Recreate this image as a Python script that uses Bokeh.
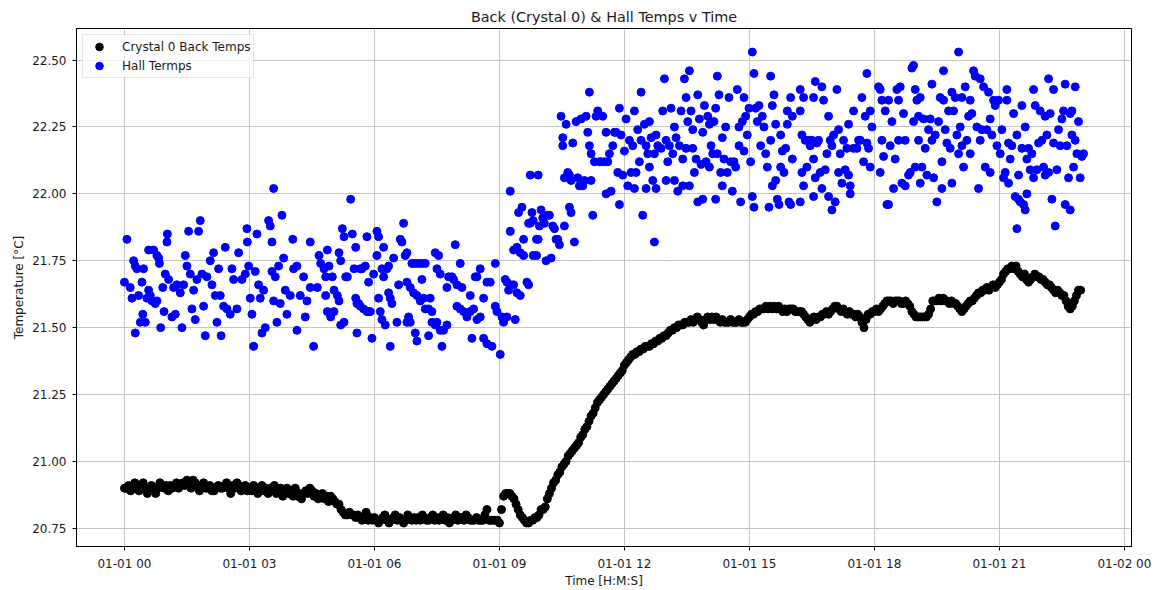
from bokeh.plotting import figure
from bokeh.models import Range1d, FixedTicker, PrintfTickFormatter, Legend, LegendItem, ColumnDataSource
from bokeh.embed import file_html
from bokeh.resources import INLINE

# ---------------- text ----------------
TITLE = "Back (Crystal 0) & Hall Temps v Time"
X_LABEL = "Time [H:M:S]"
Y_LABEL = "Temperature [°C]"
CRYSTAL_LABEL = "Crystal 0 Back Temps"
HALL_LABEL = "Hall Termps"

# ---------------- ticks ----------------
X_TICK_HOURS = [0, 3, 6, 9, 12, 15, 18, 21, 24]
X_TICK_LABELS = ["01-01 00", "01-01 03", "01-01 06", "01-01 09", "01-01 12",
                 "01-01 15", "01-01 18", "01-01 21", "01-02 00"]
Y_TICKS = [20.75, 21.00, 21.25, 21.50, 21.75, 22.00, 22.25, 22.50]

# ---------------- Crystal 0 back temps (sampled every 0.05 h) ----------------
CRYSTAL_STEP_H = 0.05
crystal_temps = [
    20.90, 20.90, 20.91, 20.89, 20.90, 20.92, 20.90, 20.89, 20.91, 20.92, 20.90, 20.88, 20.90, 20.91, 20.90, 20.88, 20.90, 20.92, 20.91, 20.90,
    20.91, 20.89, 20.91, 20.90, 20.91, 20.92, 20.90, 20.91, 20.92, 20.91, 20.93, 20.92, 20.90, 20.93, 20.92, 20.91, 20.89, 20.91, 20.92, 20.90,
    20.90, 20.91, 20.89, 20.89, 20.90, 20.91, 20.90, 20.90, 20.91, 20.92, 20.90, 20.88, 20.91, 20.90, 20.92, 20.91, 20.89, 20.90, 20.91, 20.89,
    20.90, 20.89, 20.91, 20.90, 20.88, 20.90, 20.91, 20.89, 20.90, 20.88, 20.90, 20.89, 20.91, 20.88, 20.89, 20.90, 20.87, 20.89, 20.90, 20.88,
    20.89, 20.87, 20.90, 20.87, 20.88, 20.86, 20.88, 20.89, 20.88, 20.90, 20.89, 20.87, 20.88, 20.86, 20.87, 20.88, 20.86, 20.87, 20.85, 20.87,
    20.86, 20.85, 20.84, 20.84, 20.82, 20.81, 20.80, 20.80, 20.81, 20.80, 20.80, 20.79, 20.80, 20.79, 20.78, 20.79, 20.81, 20.78, 20.79, 20.78,
    20.79, 20.78, 20.77, 20.78, 20.79, 20.80, 20.78, 20.77, 20.78, 20.79, 20.80, 20.78, 20.79, 20.78, 20.77, 20.78, 20.80, 20.79, 20.78, 20.79,
    20.78, 20.79, 20.78, 20.80, 20.79, 20.78, 20.78, 20.79, 20.80, 20.78, 20.79, 20.78, 20.79, 20.80, 20.78, 20.79, 20.77, 20.78, 20.79, 20.80,
    20.78, 20.79, 20.79, 20.78, 20.80, 20.79, 20.78, 20.78, 20.78, 20.79, 20.78, 20.78, 20.78, 20.80, 20.82, 20.78, 20.78, 20.78, 20.78, 20.78,
    20.77, 20.82, 20.87, 20.88, 20.88, 20.88, 20.87, 20.86, 20.84, 20.82, 20.80, 20.79, 20.78, 20.77, 20.77, 20.78, 20.78, 20.79, 20.79, 20.80,
    20.82, 20.82, 20.83, 20.86, 20.88, 20.90, 20.92, 20.93, 20.95, 20.96, 20.98, 20.99, 21.00, 21.02, 21.03, 21.04, 21.05, 21.06, 21.07, 21.09,
    21.10, 21.12, 21.13, 21.15, 21.17, 21.18, 21.20, 21.22, 21.23, 21.24, 21.25, 21.26, 21.27, 21.28, 21.29, 21.30, 21.31, 21.32, 21.33, 21.34,
    21.36, 21.37, 21.38, 21.39, 21.40, 21.40, 21.41, 21.41, 21.42, 21.42, 21.43, 21.43, 21.43, 21.44, 21.44, 21.45, 21.45, 21.46, 21.46, 21.47,
    21.47, 21.48, 21.49, 21.49, 21.50, 21.50, 21.51, 21.51, 21.51, 21.52, 21.52, 21.52, 21.53, 21.52, 21.53, 21.54, 21.53, 21.52, 21.51, 21.53,
    21.54, 21.53, 21.54, 21.53, 21.54, 21.53, 21.52, 21.53, 21.52, 21.52, 21.52, 21.53, 21.52, 21.52, 21.52, 21.53, 21.52, 21.52, 21.52, 21.53,
    21.54, 21.55, 21.55, 21.56, 21.56, 21.57, 21.57, 21.57, 21.58, 21.57, 21.58, 21.57, 21.58, 21.57, 21.58, 21.57, 21.56, 21.57, 21.56, 21.57,
    21.57, 21.57, 21.56, 21.56, 21.56, 21.56, 21.55, 21.54, 21.53, 21.52, 21.53, 21.54, 21.53, 21.54, 21.54, 21.55, 21.55, 21.56, 21.55, 21.56,
    21.57, 21.58, 21.58, 21.57, 21.56, 21.57, 21.56, 21.55, 21.56, 21.55, 21.55, 21.54, 21.55, 21.54, 21.52, 21.50, 21.53, 21.55, 21.55, 21.56,
    21.56, 21.57, 21.56, 21.57, 21.58, 21.59, 21.60, 21.60, 21.60, 21.59, 21.60, 21.60, 21.60, 21.59, 21.59, 21.60, 21.59, 21.58, 21.56, 21.55,
    21.54, 21.54, 21.54, 21.54, 21.54, 21.54, 21.55, 21.57, 21.60, 21.60, 21.60, 21.61, 21.60, 21.61, 21.60, 21.60, 21.59, 21.60, 21.59, 21.59,
    21.58, 21.57, 21.56, 21.57, 21.58, 21.59, 21.60, 21.60, 21.61, 21.62, 21.63, 21.63, 21.64, 21.64, 21.65, 21.64, 21.65, 21.66, 21.65, 21.66,
    21.67, 21.68, 21.70, 21.71, 21.72, 21.72, 21.73, 21.72, 21.73, 21.71, 21.70, 21.69, 21.70, 21.68, 21.67, 21.68, 21.69, 21.70, 21.69, 21.69,
    21.68, 21.68, 21.67, 21.66, 21.66, 21.65, 21.64, 21.63, 21.64, 21.63, 21.62, 21.62, 21.60, 21.58, 21.57, 21.58, 21.60, 21.62, 21.64, 21.64,
]
crystal_hours = [i * CRYSTAL_STEP_H for i in range(len(crystal_temps))]

# ---------------- Hall temps (hours since 01-01 00) ----------------
hall_hours_a = [
    0.00, 0.06, 0.14, 0.22, 0.26, 0.30, 0.26, 0.18, 0.34, 0.38,
    0.42, 0.44, 0.46, 0.50, 0.54, 0.58, 0.58, 0.62, 0.66, 0.70,
    0.74, 0.78, 0.78, 0.82, 0.84, 0.87, 0.92, 0.95, 0.98, 1.02,
    1.03, 1.06, 1.14, 1.18, 1.22, 1.26, 1.34, 1.38, 1.42, 1.46,
    1.50, 1.54, 1.58, 1.62, 1.66, 1.70, 1.74, 1.78, 1.82, 1.86,
    1.90, 1.94, 1.98, 2.06, 2.10, 2.14, 2.18, 2.22, 2.26, 2.30,
    2.32, 2.38, 2.42, 2.46, 2.54, 2.58, 2.62, 2.70, 2.74, 2.82,
    2.90, 2.94, 2.95, 2.98, 3.02, 3.06, 3.10, 3.14, 3.18, 3.22,
    3.26, 3.30, 3.34, 3.38, 3.46, 3.50, 3.54, 3.58, 3.54, 3.58,
    3.62, 3.66, 3.70, 3.74, 3.78, 3.82, 3.86, 3.90, 3.98, 4.04,
    4.06, 4.14, 4.14, 4.22, 4.30, 4.34, 4.38, 4.46, 4.46, 4.54,
]
hall_temps_a = [
    21.67, 21.83, 21.65, 21.75, 21.73, 21.72, 21.48, 21.61, 21.62, 21.52,
    21.67, 21.55, 21.72, 21.52, 21.61, 21.64, 21.79, 21.62, 21.60, 21.79,
    21.59, 21.60, 21.77, 21.76, 21.74, 21.50, 21.65, 21.56, 21.70, 21.82,
    21.85, 21.68, 21.54, 21.65, 21.55, 21.66, 21.63, 21.50, 21.66, 21.77,
    21.73, 21.86, 21.70, 21.57, 21.64, 21.53, 21.68, 21.86, 21.90, 21.70,
    21.58, 21.47, 21.69, 21.75, 21.66, 21.78, 21.62, 21.52, 21.72, 21.62,
    21.47, 21.58, 21.80, 21.57, 21.55, 21.72, 21.68, 21.57, 21.78, 21.68,
    21.70, 21.87, 21.82, 21.73, 21.61, 21.55, 21.43, 21.71, 21.85, 21.66,
    21.61, 21.48, 21.64, 21.50, 21.90, 21.88, 21.82, 22.02, 21.71, 21.60,
    21.69, 21.52, 21.73, 21.59, 21.92, 21.76, 21.64, 21.55, 21.62, 21.83,
    21.72, 21.73, 21.49, 21.62, 21.69, 21.54, 21.60, 21.82, 21.65, 21.43,
]
hall_hours_b = [
    4.63, 4.67, 4.71, 4.79, 4.83, 4.87, 4.83, 4.91, 4.87, 4.95,
    5.03, 4.99, 5.03, 5.11, 5.15, 5.15, 5.19, 5.23, 5.27, 5.19,
    5.27, 5.31, 5.35, 5.43, 5.47, 5.51, 5.55, 5.58, 5.62, 5.55,
    5.58, 5.66, 5.70, 5.78, 5.66, 5.74, 5.82, 5.86, 5.90, 5.82,
    5.86, 5.94, 5.98, 6.06, 6.10, 6.06, 6.10, 6.14, 6.18, 6.26,
    6.18, 6.22, 6.22, 6.30, 6.34, 6.34, 6.38, 6.42, 6.38, 6.46,
    6.54, 6.58, 6.62, 6.66, 6.70, 6.74, 6.78, 6.78, 6.86, 6.82,
    6.86, 6.78, 6.90, 6.98, 7.06, 7.14, 7.22, 6.94, 7.02, 6.98,
    7.02, 7.10, 7.18, 7.14, 7.22, 7.30, 7.38, 7.34, 7.30, 7.38,
    7.46, 7.50, 7.58, 7.46, 7.54, 7.50, 7.58, 7.62, 7.66, 7.74,
    7.74, 7.78, 7.86, 7.90, 7.94, 7.98, 8.06, 7.98, 8.06, 8.10,
    8.14, 8.22, 8.30, 8.38, 8.30, 8.34, 8.42, 8.46, 8.46, 8.54,
    8.54, 8.62, 8.70, 8.62, 8.70, 8.78, 8.82, 8.90, 8.90, 8.94,
    9.02, 9.06, 9.10, 9.18, 9.14, 9.18, 9.26, 9.34, 9.22, 9.38,
    9.42, 9.50, 9.26, 9.26, 9.34, 9.42, 9.50, 9.58, 9.46, 9.54,
    9.58, 9.66, 9.70, 9.70, 9.74, 9.81, 9.74, 9.81, 9.89, 9.78,
    9.89, 9.93, 9.93,
]
hall_temps_b = [
    21.65, 21.77, 21.74, 21.72, 21.62, 21.79, 21.69, 21.73, 21.56, 21.54,
    21.56, 21.69, 21.64, 21.62, 21.60, 21.78, 21.75, 21.87, 21.84, 21.51,
    21.52, 21.69, 21.69, 21.98, 21.85, 21.72, 21.61, 21.59, 21.59, 21.80,
    21.48, 21.72, 21.72, 21.73, 21.58, 21.57, 21.56, 21.56, 21.56, 21.84,
    21.67, 21.46, 21.70, 21.86, 21.84, 21.77, 21.61, 21.56, 21.53, 21.51,
    21.72, 21.69, 21.80, 21.72, 21.73, 21.63, 21.61, 21.59, 21.43, 21.76,
    21.52, 21.66, 21.83, 21.82, 21.89, 21.77, 21.78, 21.67, 21.65, 21.54,
    21.52, 21.52, 21.74, 21.74, 21.74, 21.74, 21.74, 21.63, 21.62, 21.48,
    21.45, 21.60, 21.61, 21.68, 21.57, 21.57, 21.56, 21.61, 21.47, 21.52,
    21.51, 21.52, 21.49, 21.78, 21.77, 21.72, 21.70, 21.43, 21.49, 21.51,
    21.65, 21.69, 21.69, 21.68, 21.81, 21.66, 21.74, 21.58, 21.57, 21.65,
    21.56, 21.54, 21.56, 21.57, 21.62, 21.46, 21.69, 21.69, 21.53, 21.54,
    21.72, 21.46, 21.44, 21.61, 21.67, 21.67, 21.43, 21.74, 21.58, 21.56,
    21.40, 21.54, 21.52, 21.54, 21.68, 21.67, 21.66, 21.66, 21.64, 21.53,
    21.63, 21.62, 22.01, 21.86, 21.79, 21.80, 21.78, 21.77, 21.93, 21.95,
    21.83, 21.67, 21.66, 21.89, 21.89, 21.90, 22.07, 21.77, 21.77, 21.93,
    21.83, 21.83, 22.07,
]
hall_hours_c = [
    9.96, 10.00, 10.04, 10.08, 10.12, 10.16, 10.20, 10.24, 10.28, 10.32,
    10.36, 10.40, 10.44, 10.48, 10.52, 10.56, 10.60, 10.52, 10.64, 10.56,
    10.68, 10.72, 10.76, 10.80, 10.68, 10.72, 10.84, 10.88, 10.92, 10.96,
    11.00, 11.04, 11.08, 11.12, 11.16, 11.16, 11.20, 11.24, 11.20, 11.28,
    11.32, 11.36, 11.40, 11.44, 11.48, 11.52, 11.56, 11.56, 11.60, 11.64,
    11.68, 11.72, 11.76, 11.80, 11.84, 11.88, 11.88, 11.92, 11.96, 12.00,
    12.04, 12.08, 12.12, 12.16, 12.20, 12.24, 12.24, 12.28, 12.32, 12.36,
    12.40, 12.40, 12.44, 12.48, 12.52, 12.52, 12.56, 12.60, 12.60, 12.64,
    12.68, 12.72, 12.72, 12.76, 12.76, 12.80, 12.88, 12.92, 12.96, 13.00,
    13.00, 13.04, 13.08, 13.12, 13.16, 13.20, 13.20, 13.24, 13.28, 13.32,
    13.36, 13.40, 13.40, 13.44, 13.48, 13.48, 13.52, 13.56, 13.56, 13.60,
    13.64, 13.64, 13.68, 13.72, 13.76, 13.76, 13.80, 13.84, 13.88, 13.88,
    13.92, 13.96, 14.00, 14.04, 14.04, 14.08, 14.12, 14.15, 14.19, 14.19,
    14.23, 14.23, 14.27, 14.31, 14.35, 14.35, 14.39, 14.43, 14.47, 14.51,
    14.55, 14.59, 14.63, 14.67, 14.71, 14.75, 14.75, 14.79, 14.83, 14.87,
    14.87, 14.91, 14.95, 14.99, 15.03, 15.07, 15.11, 15.07, 15.11, 15.15,
    15.19, 15.23, 15.27, 15.31, 15.35, 15.39, 15.43, 15.47, 15.51, 15.51,
    15.55, 15.55, 15.59, 15.63, 15.63, 15.67, 15.71, 15.75, 15.75, 15.79,
    15.83, 15.87, 15.91, 15.91, 15.95, 15.99, 15.99, 16.03, 16.03,
]
hall_temps_c = [
    21.88, 21.94, 21.91, 21.89, 21.75, 21.92, 21.92, 21.76, 21.88, 21.87,
    21.83, 21.83, 21.81, 22.29, 22.21, 21.88, 22.26, 22.18, 22.08, 22.06,
    21.95, 21.93, 22.19, 21.82, 22.07, 22.05, 22.27, 22.06, 22.03, 22.28,
    22.03, 22.05, 22.29, 22.23, 22.38, 22.18, 22.05, 21.92, 22.15, 22.12,
    22.29, 22.31, 22.12, 22.12, 22.29, 22.12, 22.23, 22.00, 22.12, 22.15,
    22.01, 22.18, 22.23, 22.23, 22.08, 22.32, 21.96, 22.22, 22.07, 22.16,
    22.28, 22.03, 22.20, 22.08, 22.18, 22.31, 22.02, 22.08, 22.24, 22.12,
    22.38, 22.20, 21.92, 22.26, 22.18, 22.02, 22.15, 22.27, 22.10, 22.21,
    22.05, 21.82, 22.15, 22.22, 22.02, 22.18, 22.17, 22.31, 22.43, 22.20,
    22.05, 22.12, 22.18, 22.32, 22.15, 22.05, 22.25, 22.21, 22.01, 22.18,
    22.31, 22.13, 22.03, 22.43, 22.36, 22.17, 22.27, 22.46, 22.03, 22.31,
    22.17, 22.24, 22.08, 22.13, 22.37, 21.97, 22.28, 22.11, 22.23, 21.98,
    22.33, 22.12, 22.29, 22.10, 22.26, 22.18, 22.15, 22.27, 22.32, 21.98,
    22.44, 22.15, 22.37, 22.08, 22.21, 22.03, 22.13, 22.25, 22.08, 22.36,
    22.12, 22.01, 22.12, 22.10, 22.39, 22.25, 22.18, 21.97, 22.27, 22.36,
    22.16, 22.29, 22.22, 22.32, 22.12, 21.99, 21.95, 22.53, 22.45, 22.32,
    22.27, 22.33, 22.18, 22.29, 22.25, 22.15, 22.10, 21.95, 22.44, 22.20,
    22.33, 22.03, 22.37, 22.26, 22.05, 21.98, 21.96, 22.22, 22.10, 22.16,
    22.08, 22.17, 22.31, 22.26, 21.97, 22.36, 21.96, 22.29, 22.13,
]
hall_hours_d = [
    16.22, 16.22, 16.26, 16.30, 16.26, 16.30, 16.22, 16.34, 16.38, 16.42,
    16.46, 16.50, 16.54, 16.58, 16.54, 16.58, 16.54, 16.62, 16.66, 16.70,
    16.74, 16.78, 16.74, 16.82, 16.86, 16.90, 16.90, 16.94, 16.98, 16.98,
    17.02, 17.06, 17.10, 17.14, 17.14, 17.18, 17.22, 17.26, 17.30, 17.34,
    17.38, 17.38, 17.42, 17.42, 17.50, 17.50, 17.58, 17.62, 17.66, 17.70,
    17.74, 17.78, 17.82, 17.82, 17.86, 17.90, 17.90, 17.94, 18.10, 18.14,
    18.18, 18.14, 18.18, 18.22, 18.26, 18.30, 18.34, 18.34, 18.38, 18.42,
    18.46, 18.50, 18.54, 18.58, 18.58, 18.62, 18.66, 18.70, 18.74, 18.74,
    18.82, 18.86, 18.90, 18.94, 18.94, 18.98, 18.98, 19.02, 19.06, 19.06,
    19.10, 19.10, 19.14, 19.18, 19.22, 19.26, 19.30, 19.34, 19.38, 19.38,
    19.42, 19.46, 19.50, 19.54, 19.58, 19.62, 19.62, 19.66, 19.66, 19.70,
    19.74, 19.78, 19.82, 19.86, 19.86, 19.90, 19.94, 19.98, 20.02, 20.02,
    20.06, 20.10, 20.10, 20.14, 20.18, 20.22, 20.26, 20.30, 20.30, 20.34,
    20.38, 20.42, 20.46, 20.50, 20.54, 20.54, 20.58, 20.62, 20.66, 20.70,
    20.74, 20.78, 20.78, 20.82, 20.86, 20.90, 20.94, 20.98, 21.02, 21.06,
    21.10, 21.14, 21.18, 21.18, 21.22, 21.22, 21.26, 21.30, 21.34, 21.38,
    21.42, 21.42, 21.46, 21.46, 21.50, 21.54, 21.54, 21.58, 21.62, 21.62,
    21.66, 21.66, 21.70, 21.74, 21.78, 21.82, 21.82, 21.86, 21.90, 21.94,
    21.98, 22.02, 22.06, 22.10, 22.10, 22.14, 22.18, 22.18, 22.22, 22.26,
    22.30, 22.30, 22.34, 22.38, 22.42, 22.46, 22.50, 22.54, 22.58, 22.58,
    22.62, 22.66, 22.70, 22.70, 22.74, 22.74, 22.78, 22.82, 22.82, 22.86,
    22.90, 22.94, 22.98, 23.02,
]
hall_temps_d = [
    22.39, 22.31, 22.22, 22.36, 22.08, 22.03, 21.97, 22.20, 22.10, 22.20,
    22.18, 22.20, 22.36, 22.42, 22.13, 22.06, 21.99, 22.19, 22.20, 22.08,
    22.40, 22.35, 22.02, 22.09, 22.15, 22.29, 21.99, 22.20, 22.18, 21.94,
    22.22, 21.97, 22.39, 22.24, 22.08, 22.15, 22.04, 22.20, 22.09, 22.17,
    22.26, 22.07, 22.03, 22.00, 22.31, 22.17, 22.17, 22.20, 22.20, 22.36,
    22.12, 22.29, 22.45, 22.19, 22.17, 22.10, 22.31, 22.25, 22.40, 22.39,
    22.35, 22.08, 22.20, 22.14, 22.31, 21.96, 21.96, 22.35, 22.18, 22.27,
    22.02, 22.13, 22.39, 22.35, 22.20, 22.40, 22.04, 22.30, 22.20, 22.03,
    22.07, 22.08, 22.47, 22.48, 22.27, 22.39, 22.10, 22.35, 22.29, 22.20,
    22.36, 22.04, 22.10, 22.28, 22.17, 22.07, 22.24, 22.28, 22.41, 22.20,
    22.06, 22.22, 21.97, 22.27, 22.36, 22.02, 22.12, 22.46, 22.35, 22.24,
    22.19, 22.31, 22.17, 22.38, 22.04, 22.31, 22.36, 22.22, 22.53, 22.15,
    22.25, 22.18, 22.36, 22.10, 22.40, 22.20, 22.29, 22.35, 22.15, 22.30,
    22.46, 22.44, 22.25, 22.02, 22.43, 22.20, 22.24, 22.40, 22.10, 22.24,
    22.38, 22.28, 22.08, 22.22, 22.35, 22.33, 22.18, 22.35, 22.15, 22.24,
    22.06, 22.08, 22.39, 22.35, 22.04, 22.19, 22.13, 22.18, 22.30, 21.99,
    22.22, 21.87, 21.98, 22.07, 21.97, 22.33, 22.17, 21.96, 21.94, 22.25,
    22.13, 22.00, 22.17, 22.09, 22.15, 22.39, 22.06, 22.33, 22.09, 22.19,
    22.31, 22.20, 22.10, 22.07, 22.29, 22.22, 22.43, 22.08, 22.30, 21.98,
    22.39, 22.19, 21.88, 22.09, 22.24, 22.18, 22.28, 22.31, 22.41, 21.96,
    22.18, 22.06, 21.94, 22.30, 22.31, 22.22, 22.10, 22.40, 22.20, 22.15,
    22.27, 22.06, 22.14, 22.15,
]

hall_hours = hall_hours_a + hall_hours_b + hall_hours_c + hall_hours_d
hall_temps = hall_temps_a + hall_temps_b + hall_temps_c + hall_temps_d

# ---------------- axis limits: matplotlib-style 5 % data margins ----------------
all_h = crystal_hours + hall_hours
all_t = crystal_temps + hall_temps
xpad = 0.05 * (max(all_h) - min(all_h))
ypad = 0.05 * (max(all_t) - min(all_t))

FONT = "DejaVu Sans"
TEXT_COLOR = "#1a1a1a"

p = figure(
    width=1159, height=590,
    output_backend="svg", toolbar_location=None,
    x_range=Range1d(min(all_h) - xpad, max(all_h) + xpad),
    y_range=Range1d(min(all_t) - ypad, max(all_t) + ypad),
    min_border_left=76, min_border_right=28,
    min_border_top=28, min_border_bottom=41,
    background_fill_color="white", border_fill_color="white",
)
p.outline_line_color = "black"
p.outline_line_width = 1
p.outline_line_alpha = 1

p.title.text = TITLE
p.title.align = "center"
p.title.text_font = FONT
p.title.text_font_size = "14.4px"
p.title.text_font_style = "normal"
p.title.text_color = TEXT_COLOR
p.title.standoff = 8

crystal_src = ColumnDataSource(dict(h=crystal_hours, t=crystal_temps))
hall_src = ColumnDataSource(dict(h=hall_hours, t=hall_temps))
r_crystal = p.scatter("h", "t", source=crystal_src, size=8, marker="circle",
                      fill_color="black", line_color="black")
r_hall = p.scatter("h", "t", source=hall_src, size=8, marker="circle",
                   fill_color="#0000ff", line_color="#0000ff")

# axes
p.xaxis.ticker = FixedTicker(ticks=X_TICK_HOURS)
p.xaxis.major_label_overrides = {h: lab for h, lab in zip(X_TICK_HOURS, X_TICK_LABELS)}
p.yaxis.ticker = FixedTicker(ticks=Y_TICKS)
p.yaxis.formatter = PrintfTickFormatter(format="%.2f")
p.xaxis.axis_label = X_LABEL
p.yaxis.axis_label = Y_LABEL
for ax in (p.xaxis[0], p.yaxis[0]):
    ax.axis_label_text_font = FONT
    ax.axis_label_text_font_size = "12px"
    ax.axis_label_text_font_style = "normal"
    ax.axis_label_text_color = TEXT_COLOR
    ax.major_label_text_font = FONT
    ax.major_label_text_font_size = "12px"
    ax.major_label_text_color = TEXT_COLOR
    ax.major_tick_in = 0
    ax.major_tick_out = 4
    ax.major_tick_line_color = "black"
    ax.minor_tick_line_color = None
    ax.axis_line_color = "black"
p.xaxis.major_label_standoff = 6
p.xaxis.axis_label_standoff = 0
p.yaxis.major_label_standoff = 6
p.yaxis.axis_label_standoff = 3

for g in (p.xgrid[0], p.ygrid[0]):
    g.grid_line_color = "#c4c4c4"
    g.grid_line_width = 1

legend = Legend(
    items=[LegendItem(label=CRYSTAL_LABEL, renderers=[r_crystal]),
           LegendItem(label=HALL_LABEL, renderers=[r_hall])],
    location="top_left",
)
legend.margin = 6
legend.padding = 2
legend.spacing = 0
legend.glyph_width = 28
legend.glyph_height = 19
legend.label_height = 19
legend.label_standoff = 9
legend.label_text_font = FONT
legend.label_text_font_size = "12px"
legend.label_text_color = TEXT_COLOR
legend.border_line_color = "#cccccc"
legend.border_line_width = 1
legend.background_fill_color = "white"
legend.background_fill_alpha = 0.8
p.add_layout(legend)

open("out.html", "w").write(file_html(p, INLINE, title="Back (Crystal 0) & Hall Temps v Time"))
